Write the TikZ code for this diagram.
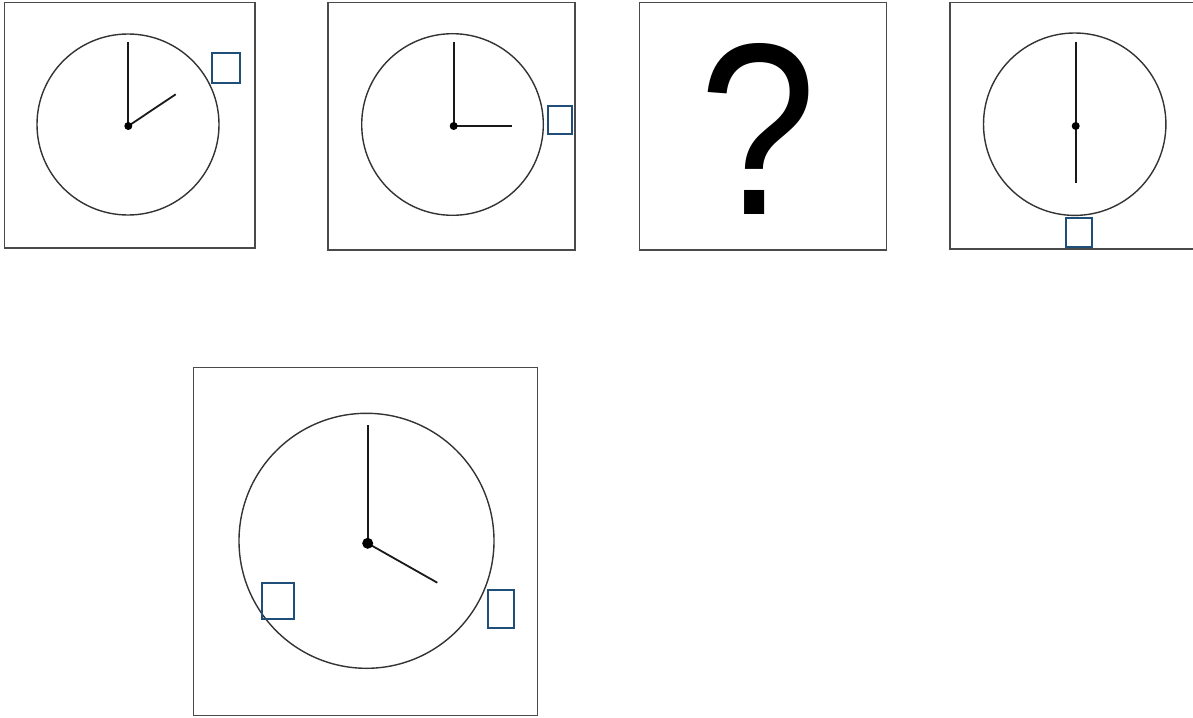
\documentclass[tikz,border=0pt]{standalone}
\usepackage{fontspec}
\newfontfamily\qfont{Liberation Sans}
\definecolor{frameg}{HTML}{4A4A4A}
\definecolor{sqblue}{HTML}{1F4E79}
\tikzset{
  panel/.style={draw=frameg, line width=1.5pt},
  face/.style={draw=black!80, line width=1.4pt},
  hand/.style={draw=black!90, line width=1.8pt},
  marker/.style={draw=sqblue, line width=2pt},
  hub/.style={fill=black}
}
\begin{document}
\begin{tikzpicture}[x=1pt,y=-1pt]
\useasboundingbox (0,0) rectangle (1193,717);
% panel 1
\draw[panel] (4.5,2.5) rectangle (255,248);
\draw[face] (128,124.5) ellipse [x radius=91, y radius=90.5];
\coordinate (c1) at (128.3,126);
\draw[hand] (c1) -- (128.3,41.7);
\draw[hand] (c1) -- (175.7,94.3);
\fill[hub] (c1) circle (4);
\draw[marker] (211.7,53.3) rectangle (240,83.3);
% panel 2
\draw[panel] (328,2.5) rectangle (575,250);
\draw[face] (452.5,124.5) circle (90.8);
\coordinate (c2) at (453.7,126);
\draw[hand] (c2) -- (453.7,41.7);
\draw[hand] (c2) -- (511.7,126);
\fill[hub] (c2) circle (4);
\draw[marker] (547.7,106) rectangle (572.3,134);
% panel 3
\draw[panel] (639.3,2.5) rectangle (886.7,250);
\node[inner sep=0pt, anchor=base, xscale=0.86] (q) at (758,214) {\qfont\fontsize{245}{245}\selectfont ?};
% panel 4
\draw[panel] (950,2.5) rectangle (1196,249);
\draw[face] (1074.7,124.2) circle (91.2);
\coordinate (c4) at (1075.7,126);
\draw[hand] (1075.7,41.7) -- (1075.7,182.7);
\fill[hub] (c4) circle (4);
\draw[marker] (1065.7,217.7) rectangle (1092.3,246.7);
% panel 5
\draw[panel] (193.3,367.3) rectangle (537.3,715.7);
\draw[face] (366.5,540.8) circle (127.5);
\coordinate (c5) at (367.7,543.3);
\draw[hand] (c5) -- (367.7,425);
\draw[hand] (c5) -- (437.3,582.7);
\fill[hub] (c5) circle (5.5);
\draw[marker] (261.7,583.3) rectangle (294.3,619.3);
\draw[marker] (487.7,590) rectangle (514.3,628.3);
\end{tikzpicture}
\end{document}
